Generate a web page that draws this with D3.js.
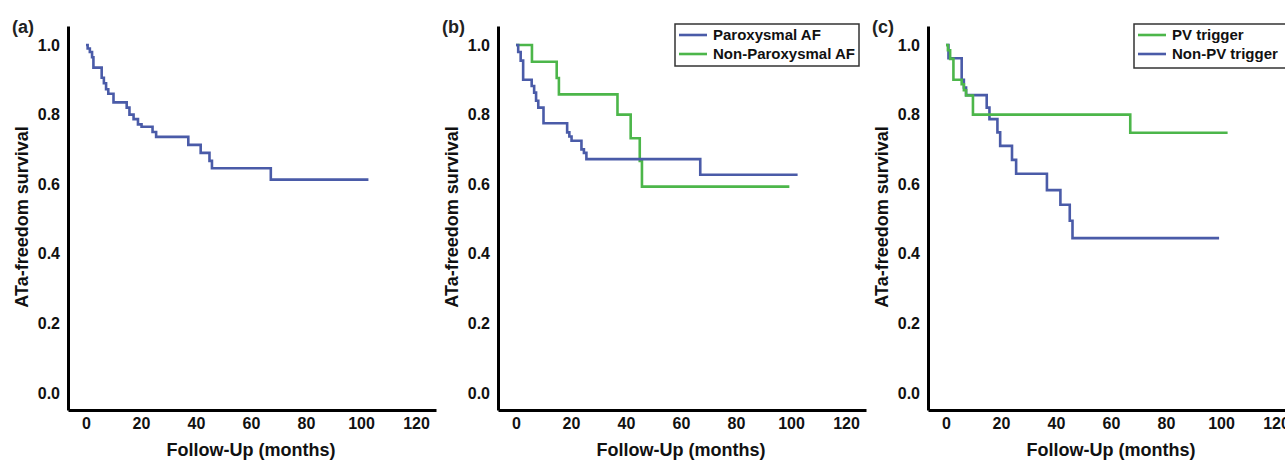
<!DOCTYPE html>
<html>
<head>
<meta charset="utf-8">
<script src="https://cdn.jsdelivr.net/npm/d3@7"></script>
<style>
    body { margin: 0; background: #fff; }
    svg { display: block; font-family: "Liberation Sans", Arial, sans-serif; }
    .tick text { font-size: 16px; font-weight: bold; fill: #111; }
    .domain { stroke: #000; stroke-width: 3; }
</style>
</head>
<body>
<div id="chart"></div>
<script>
    // tick labels
    const xTicks = [0, 20, 40, 60, 80, 100, 120];
    const yTicks = [0.0, 0.2, 0.4, 0.6, 0.8, 1.0];

    // (a) whole cohort
    const allTimes = [0, 0.6, 1.4, 2.2, 2.7, 5.7, 6.5, 7.3, 8.1, 10.0, 14.8, 15.8, 17.3, 18.9, 20.2, 24.2, 25.5, 37.2, 41.7, 44.9, 45.8, 67.2, 102.7];
    const allSurv = [1.0, 0.99, 0.98, 0.965, 0.935, 0.906, 0.89, 0.873, 0.86, 0.835, 0.82, 0.80, 0.787, 0.772, 0.765, 0.75, 0.736, 0.713, 0.69, 0.667, 0.646, 0.613, 0.613];

    // (b) paroxysmal vs non-paroxysmal
    const paroxTimes = [0, 0.8, 1.7, 2.6, 5.7, 6.6, 7.3, 8.1, 10.0, 18.6, 19.4, 20.2, 23.8, 24.7, 25.6, 67.0, 102.4];
    const paroxSurv = [1.0, 0.98, 0.955, 0.90, 0.882, 0.863, 0.84, 0.82, 0.775, 0.749, 0.737, 0.725, 0.70, 0.69, 0.672, 0.627, 0.627];
    const nonParoxTimes = [0, 5.8, 14.8, 15.6, 36.9, 41.7, 45.0, 45.8, 99.4];
    const nonParoxSurv = [1.0, 0.952, 0.905, 0.858, 0.80, 0.732, 0.667, 0.593, 0.593];

    // (c) PV vs non-PV trigger
    const pvTimes = [0, 0.7, 1.5, 2.7, 5.7, 6.5, 7.3, 9.8, 67.0, 102.4];
    const pvSurv = [1.0, 0.985, 0.96, 0.90, 0.887, 0.87, 0.855, 0.80, 0.748, 0.748];
    const nonPvTimes = [0, 0.9, 5.7, 6.5, 7.3, 14.8, 15.8, 18.7, 19.7, 24.0, 25.5, 36.7, 41.6, 45.0, 46.0, 99.3];
    const nonPvSurv = [1.0, 0.962, 0.90, 0.878, 0.856, 0.82, 0.787, 0.749, 0.71, 0.67, 0.63, 0.583, 0.541, 0.495, 0.445, 0.445];

    const blue = '#4a5ba8';
    const green = '#4cb64a';

    const width = 1285;
    const height = 460;

    const svg = d3.select('#chart')
        .append('svg')
        .attr('width', width)
        .attr('height', height);

    const toPoints = (times, surv) => times.map((t, i) => [t, surv[i]]);

    const panels = [
        {
            dx: 0, label: '(a)',
            series: [{ pts: toPoints(allTimes, allSurv), color: blue }],
            legend: null
        },
        {
            dx: 430, label: '(b)',
            series: [
                { pts: toPoints(nonParoxTimes, nonParoxSurv), color: green },
                { pts: toPoints(paroxTimes, paroxSurv), color: blue }
            ],
            legend: { x: 675, y: 24, w: 184, h: 42, items: [['Paroxysmal AF', blue], ['Non-Paroxysmal AF', green]] }
        },
        {
            dx: 860, label: '(c)',
            series: [
                { pts: toPoints(nonPvTimes, nonPvSurv), color: blue },
                { pts: toPoints(pvTimes, pvSurv), color: green }
            ],
            legend: { x: 1134, y: 24, w: 160, h: 44, items: [['PV trigger', green], ['Non-PV trigger', blue]] }
        }
    ];

    panels.forEach((p) => {
        const g = svg.append('g').attr('transform', `translate(${p.dx},0)`);

        // 0 -> 86px, 120 -> 416px; axis line runs 68..436
        const x = d3.scaleLinear().domain([-6.545, 127.27]).range([68, 436]);
        // 0 -> 393px, 1 -> 45px; axis line runs 410..26
        const y = d3.scaleLinear().domain([-0.0489, 1.0546]).range([410, 26]);

        g.append('g')
            .attr('transform', 'translate(0,410)')
            .call(d3.axisBottom(x).tickValues(xTicks).tickSize(0).tickPadding(8))
            .call(a => a.selectAll('.tick text').attr('dy', '0.71em'));

        g.append('g')
            .attr('transform', 'translate(68,0)')
            .call(d3.axisLeft(y).tickValues(yTicks).tickSize(0).tickPadding(8).tickFormat(d3.format('.1f')));

        const line = d3.line()
            .x(d => x(d[0]))
            .y(d => y(d[1]))
            .curve(d3.curveStepAfter);

        p.series.forEach((s) => {
            g.append('path')
                .datum(s.pts)
                .attr('fill', 'none')
                .attr('stroke', s.color)
                .attr('stroke-width', 2.6)
                .attr('d', line);
        });

        g.append('text')
            .attr('x', 12)
            .attr('y', 33)
            .style('font-size', '18px')
            .style('font-weight', 'bold')
            .attr('fill', '#222')
            .text(p.label);

        g.append('text')
            .attr('transform', 'translate(28,217) rotate(-90)')
            .attr('text-anchor', 'middle')
            .style('font-size', '18px')
            .style('font-weight', 'bold')
            .attr('fill', '#111')
            .text('ATa-freedom survival');

        g.append('text')
            .attr('x', 251)
            .attr('y', 456)
            .attr('text-anchor', 'middle')
            .style('font-size', '18px')
            .style('font-weight', 'bold')
            .attr('fill', '#111')
            .text('Follow-Up (months)');

        if (p.legend) {
            const L = p.legend;
            svg.append('rect')
                .attr('x', L.x).attr('y', L.y)
                .attr('width', L.w).attr('height', L.h)
                .attr('fill', '#fff')
                .attr('stroke', '#333')
                .attr('stroke-width', 1.5);
            L.items.forEach((it, i) => {
                const ly = L.y + 11 + i * 19;
                svg.append('line')
                    .attr('x1', L.x + 4).attr('x2', L.x + 32)
                    .attr('y1', ly).attr('y2', ly)
                    .attr('stroke', it[1])
                    .attr('stroke-width', 2.6);
                svg.append('text')
                    .attr('x', L.x + 38)
                    .attr('y', ly + 5)
                    .style('font-size', '15px')
                    .style('font-weight', 'bold')
                    .attr('fill', '#111')
                    .text(it[0]);
            });
        }
    });
</script>
</body>
</html>
